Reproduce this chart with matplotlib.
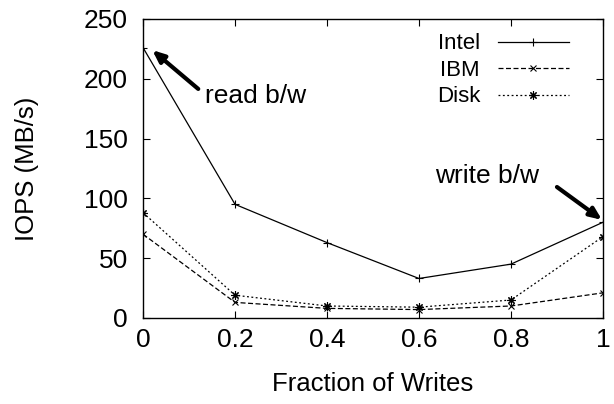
import matplotlib
matplotlib.use("Agg")
import matplotlib.pyplot as plt

plt.rcParams['font.family'] = ['Liberation Sans', 'DejaVu Sans']

frac = [0, 0.2, 0.4, 0.6, 0.8, 1.0]
intel = [226, 95, 63, 33, 45, 80]
ibm = [70, 13, 8, 7, 10, 21]
disk = [88, 19, 10, 9, 15, 68]
xlabels = ["0", "0.2", "0.4", "0.6", "0.8", "1"]

fig = plt.figure(figsize=(6.14, 4.04), dpi=100)
ax = fig.add_axes([0.233, 0.213, 0.749, 0.740])

ax.plot(frac, intel, color='black', lw=0.9, marker='+', ms=6, mew=0.8, label='Intel')
ax.plot(frac, ibm, color='black', lw=0.9, ls=(0, (4, 2)), marker='x', ms=5, mew=0.8, label='IBM')
ax.plot(frac, disk, color='black', lw=0.9, ls=(0, (1.5, 2)), marker=(8, 2, 0), ms=6, mew=0.8, label='Disk')

ax.set_xlim(0, 1)
ax.set_ylim(0, 250)
ax.set_xticks(frac)
ax.set_xticklabels(xlabels)
ax.set_yticks(range(0, 251, 50))
ax.tick_params(direction='in', top=True, right=True, labelsize=19, length=5)
ax.tick_params(axis='x', pad=7)
ax.tick_params(axis='y', pad=11)
for s in ax.spines.values():
    s.set_linewidth(1.0)

ax.set_xlabel("Fraction of Writes", fontsize=18.5)
ax.set_ylabel("IOPS (MB/s)", fontsize=18.5)
ax.xaxis.set_label_coords(0.5, -0.18)
ax.yaxis.set_label_coords(-0.226, 0.5)

ax.legend(loc='upper right', bbox_to_anchor=(0.926, 0.952), frameon=False,
          markerfirst=False, numpoints=1, fontsize=16, handlelength=3.2,
          labelspacing=0.25, borderaxespad=0, borderpad=0, handletextpad=0.8)

arrow = dict(arrowstyle='-|>,head_length=0.7,head_width=0.3', lw=3, color='black',
             shrinkA=0, shrinkB=0)
ax.annotate("", xy=(0.02, 224), xytext=(0.12, 191.5), arrowprops=arrow)
ax.text(0.135, 186, "read b/w", fontsize=19, va='center', ha='left')
ax.annotate("", xy=(0.998, 82), xytext=(0.9, 109.5), arrowprops=arrow)
ax.text(0.747, 119, "write b/w", fontsize=19, va='center', ha='center')

fig.savefig("out.png", dpi=100)
